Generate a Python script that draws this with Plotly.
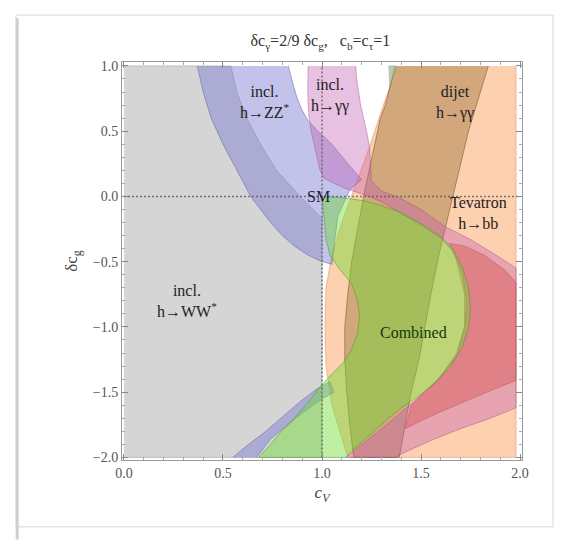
import plotly.graph_objects as go

# ---------------- data ----------------
ww_x = [0.0, 0.54, 0.555, 0.57, 0.595, 0.62, 0.655, 0.69, 0.73, 0.77, 0.83, 0.89, 0.95, 1.0, 1.0, 0.0]
ww_y = [1.0, 1.0, 0.9, 0.8, 0.7, 0.6, 0.5, 0.4, 0.3, 0.2, 0.1, 0.0, -0.09, -0.17, -2.0, -2.0]

tev_x = [1.38, 1.31, 1.24, 1.16, 1.10, 1.05, 1.02, 1.015, 1.02, 1.05, 1.10, 1.13, 1.98, 1.98]
tev_y = [1.0, 0.7, 0.38, 0.05, -0.2, -0.45, -0.7, -1.0, -1.3, -1.6, -1.85, -2.0, -2.0, 1.0]

dij_x = [1.37, 1.345, 1.32, 1.295, 1.28, 1.245, 1.21, 1.18, 1.15, 1.13, 1.115, 1.115, 1.125, 1.14, 1.16,
         1.39, 1.42, 1.45, 1.49, 1.52, 1.55, 1.59, 1.63, 1.66, 1.70, 1.74, 1.79, 1.84]
dij_y = [1.0, 0.85, 0.7, 0.6, 0.5, 0.25, 0.0, -0.25, -0.5, -0.75, -1.0, -1.25, -1.5, -1.75, -2.0,
         -2.0, -1.75, -1.5, -1.25, -1.0, -0.75, -0.45, -0.2, 0.0, 0.25, 0.5, 0.75, 1.0]

zz_up_x = [0.37, 0.385, 0.40, 0.42, 0.44, 0.47, 0.50, 0.535, 0.57, 0.605, 0.64, 0.69, 0.74, 0.80, 0.86, 0.93, 1.0, 1.05,
           1.06, 1.08, 1.14, 1.2, 1.12, 1.05, 0.98, 0.93, 0.90, 0.875, 0.85, 0.83]
zz_up_y = [1.0, 0.9, 0.8, 0.7, 0.6, 0.5, 0.4, 0.3, 0.2, 0.1, 0.0, -0.1, -0.2, -0.3, -0.38, -0.45, -0.5, -0.52,
           -0.4, -0.15, 0.05, 0.13, 0.27, 0.4, 0.5, 0.58, 0.66, 0.75, 0.88, 1.0]

zz_lo_x = [0.55, 0.62, 0.70, 0.77, 0.83, 0.90, 0.97, 1.04, 1.06, 0.98, 0.90, 0.82, 0.74, 0.67]
zz_lo_y = [-2.0, -1.91, -1.82, -1.73, -1.65, -1.56, -1.48, -1.42, -1.5, -1.57, -1.66, -1.76, -1.86, -2.0]

gg_x = [0.93, 0.928, 0.928, 0.93, 0.935, 0.945, 0.96, 0.975, 0.99, 1.01, 1.06, 1.12, 1.2, 1.3, 1.39, 1.5, 1.6,
        1.66, 1.71, 1.73, 1.72, 1.68, 1.6, 1.48, 1.35, 1.22, 1.12,
        1.37, 1.42, 1.55, 1.7, 1.85, 1.98, 1.98,
        1.88, 1.75, 1.62, 1.5, 1.39, 1.30, 1.25, 1.245, 1.24, 1.225, 1.21, 1.195, 1.185, 1.175, 1.17]
gg_y = [1.0, 0.9, 0.8, 0.7, 0.6, 0.5, 0.4, 0.3, 0.2, 0.14, 0.1, 0.06, 0.02, -0.04, -0.12, -0.22, -0.32,
        -0.42, -0.6, -0.8, -1.0, -1.2, -1.38, -1.55, -1.72, -1.88, -2.0,
        -2.0, -1.96, -1.87, -1.78, -1.7, -1.62, -0.55,
        -0.45, -0.33, -0.23, -0.1, -0.01, 0.04, 0.12, 0.25, 0.38, 0.5, 0.6, 0.7, 0.8, 0.9, 1.0]

red_x = [1.64, 1.72, 1.82, 1.92, 1.98, 1.98, 1.85, 1.72, 1.6, 1.5, 1.42, 1.45, 1.57, 1.68, 1.72, 1.72, 1.68]
red_y = [-0.36, -0.38, -0.45, -0.56, -0.66, -1.41, -1.49, -1.57, -1.65, -1.72, -1.78, -1.6, -1.43, -1.22, -1.0, -0.75, -0.5]

comb_x = [1.0, 1.1, 1.2, 1.3, 1.39, 1.5, 1.6, 1.66, 1.71, 1.74, 1.75, 1.74, 1.71, 1.65, 1.57, 1.48, 1.40, 1.32,
          1.24, 1.15, 1.12, 0.68, 0.74, 0.8, 0.86, 0.93, 0.99, 1.05, 1.11, 1.15, 1.18, 1.19, 1.18, 1.15, 1.09,
          1.04, 1.02, 1.01, 1.0]
comb_y = [0.0, -0.01, -0.03, -0.07, -0.12, -0.21, -0.31, -0.4, -0.55, -0.7, -0.85, -1.0, -1.15, -1.3, -1.43,
          -1.54, -1.62, -1.72, -1.83, -1.95, -2.0, -2.0, -1.9, -1.79, -1.7, -1.58, -1.46, -1.36, -1.27, -1.17,
          -1.05, -0.92, -0.8, -0.67, -0.56, -0.45, -0.32, -0.16, 0.0]

sliver_x = [1.335, 1.372, 1.34]
sliver_y = [1.0, 1.0, 0.82]

x_ticks = [0.0, 0.5, 1.0, 1.5, 2.0]
x_tick_text = ["0.0", "0.5", "1.0", "1.5", "2.0"]
y_ticks = [1.0, 0.5, 0.0, -0.5, -1.0, -1.5, -2.0]
y_tick_text = ["1.0", "0.5", "0.0", "\u22120.5", "\u22121.0", "\u22121.5", "\u22122.0"]

labels = [
    ("incl.<br>h\u2192ZZ<sup>*</sup>", 0.71, 0.72, "#222222"),
    ("incl.<br>h\u2192\u03b3\u03b3", 1.04, 0.77, "#222222"),
    ("dijet<br>h\u2192\u03b3\u03b3", 1.67, 0.72, "#222222"),
    ("SM", 0.98, 0.0, "#222233"),
    ("Tevatron<br>h\u2192bb", 1.79, -0.13, "#222222"),
    ("incl.<br>h\u2192WW<sup>*</sup>", 0.32, -0.8, "#222222"),
    ("Combined", 1.46, -1.04, "#16360c"),
]

SERIF = "Liberation Serif"

# ---------------- figure ----------------
fig = go.Figure()

def region(xs, ys, fill, edge):
    fig.add_trace(go.Scatter(x=xs, y=ys, mode="lines", fill="toself", fillcolor=fill,
                             line=dict(color=edge, width=0.8), hoverinfo="skip", showlegend=False))

region(ww_x, ww_y, "rgba(150,150,150,0.40)", "rgba(130,130,130,0.5)")
region(tev_x, tev_y, "rgba(250,150,80,0.45)", "rgba(200,120,60,0.5)")
region(dij_x, dij_y, "rgba(140,100,40,0.38)", "rgba(100,70,30,0.6)")
region(zz_up_x, zz_up_y, "rgba(120,120,210,0.45)", "rgba(90,90,160,0.6)")
region(zz_lo_x, zz_lo_y, "rgba(120,120,210,0.45)", "rgba(90,90,160,0.6)")
region(gg_x, gg_y, "rgba(195,90,175,0.38)", "rgba(150,70,130,0.5)")
region(red_x, red_y, "rgba(205,60,50,0.33)", "rgba(160,60,60,0.4)")
region(comb_x, comb_y, "rgba(110,220,50,0.45)", "rgba(60,150,30,0.6)")
region(sliver_x, sliver_y, "rgba(160,175,150,0.7)", "rgba(120,130,110,0.5)")

# SM reference lines
for lx, ly in (([0.0, 2.0], [0.0, 0.0]), ([1.0, 1.0], [-2.0, 1.0])):
    fig.add_trace(go.Scatter(x=lx, y=ly, mode="lines",
                             line=dict(color="rgba(90,90,90,0.8)", width=1.5, dash="2px,2px"),
                             hoverinfo="skip", showlegend=False))

for txt, lx, ly, col in labels:
    fig.add_annotation(x=lx, y=ly, text=txt, showarrow=False,
                       font=dict(family=SERIF, size=16, color=col), align="center")

axis_common = dict(showgrid=False, zeroline=False, showline=True, linecolor="#9a9a9a", linewidth=1,
                   mirror="allticks", ticks="inside", ticklen=6, tickcolor="#8a8a8a",
                   tickfont=dict(family=SERIF, size=14, color="#555555"))

fig.update_layout(
    width=566, height=542,
    margin=dict(l=122, r=44, t=62, b=82),
    paper_bgcolor="white", plot_bgcolor="white",
    font=dict(family=SERIF),
    title=dict(text="\u03b4c<sub>\u03b3</sub>=2/9 \u03b4c<sub>g</sub>,&nbsp;&nbsp;&nbsp;c<sub>b</sub>=c<sub>\u03c4</sub>=1",
               x=0.566, xanchor="center", y=0.925, yanchor="middle",
               font=dict(family=SERIF, size=16, color="#333333")),
    xaxis=dict(range=[-0.01, 2.01], tickvals=x_ticks, ticktext=x_tick_text,
               minor=dict(ticks="inside", ticklen=3, tickcolor="#aaaaaa", dtick=0.1),
               title=dict(text="<i>c<sub>V</sub></i>", standoff=6,
                          font=dict(family=SERIF, size=17, color="#444444")),
               **axis_common),
    yaxis=dict(range=[-2.02, 1.03], tickvals=y_ticks, ticktext=y_tick_text,
               minor=dict(ticks="inside", ticklen=3, tickcolor="#aaaaaa", dtick=0.1),
               title=dict(text="\u03b4c<sub>g</sub>", standoff=10,
                          font=dict(family=SERIF, size=17, color="#444444")),
               **axis_common),
)

# card frame around the figure
fig.add_shape(type="rect", xref="paper", yref="paper", x0=-0.265, x1=1.0775, y0=-0.168, y1=1.118,
              line=dict(color="#d8d8d8", width=1), fillcolor="rgba(0,0,0,0)", layer="below")
fig.add_shape(type="line", xref="paper", yref="paper", x0=-0.262, x1=-0.262, y0=-0.2, y1=1.11,
              line=dict(color="#cfcfcf", width=3), layer="below")

fig.write_html("out.html", config={"displayModeBar": False},
               post_script="document.body.style.margin='0px';")
